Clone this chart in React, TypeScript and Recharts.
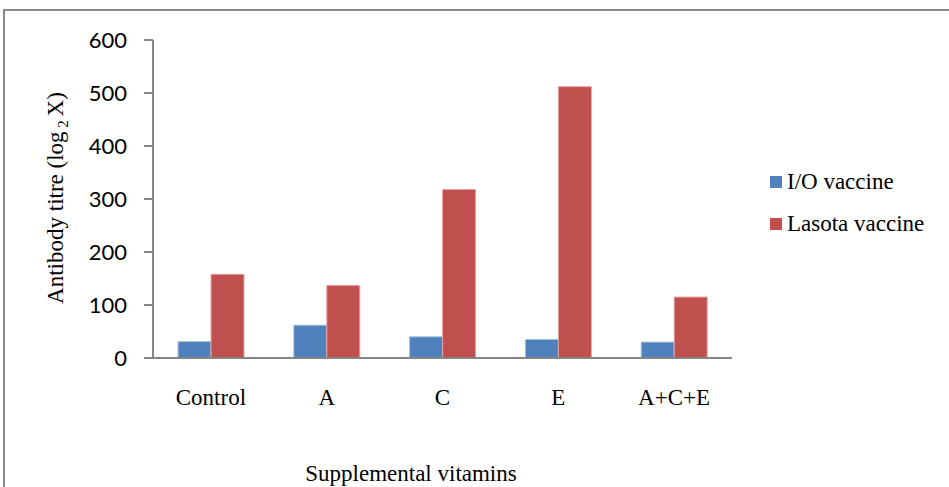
import { BarChart, Bar, XAxis, YAxis } from 'recharts'

const categories = ['Control', 'A', 'C', 'E', 'A+C+E']
const ioVaccine = [31, 62, 40, 35, 30]
const lasotaVaccine = [158, 137, 318, 512, 115]
const yTicks = [0, 100, 200, 300, 400, 500, 600]

const SERIES = [
  { key: 'io', name: 'I/O vaccine', color: '#4F81BD', stroke: '#A9C1DF' },
  { key: 'lasota', name: 'Lasota vaccine', color: '#C0504D', stroke: '#E3A6A4' },
]

const data = categories.map((name, i) => ({ name, io: ioVaccine[i], lasota: lasotaVaccine[i] }))

const serif = '"Liberation Serif", "Times New Roman", serif'

function YTitle() {
  return (
    <text
      x={63}
      y={198}
      transform="rotate(-90, 63, 198)"
      textAnchor="middle"
      fontFamily={serif}
      fontSize={23}
      fill="#000"
    >
      Antibody titre (log
      <tspan fontSize={15} dy={5}> 2 </tspan>
      <tspan dy={-5}>X)</tspan>
    </text>
  )
}

function XTitle() {
  return (
    <text x={411} y={481} textAnchor="middle" fontFamily={serif} fontSize={23} fill="#000">
      Supplemental vitamins
    </text>
  )
}

export default function App() {
  return (
    <div style={{ position: 'absolute', left: 0, top: 0, width: 949, height: 487, overflow: 'hidden', background: '#fff' }}>
      <div
        style={{
          position: 'absolute',
          left: 3,
          top: 9,
          width: 1000,
          height: 600,
          borderLeft: '2px solid #898989',
          borderTop: '2px solid #898989',
        }}
      />
      <BarChart
        width={949}
        height={487}
        data={data}
        margin={{ top: 40, right: 217, bottom: 0, left: 0 }}
        barGap={0}
        barSize={33}
        style={{ position: 'absolute', left: 0, top: 0 }}
      >
        <XAxis
          dataKey="name"
          height={129}
          axisLine={{ stroke: '#868686', strokeWidth: 2 }}
          tickLine={false}
          tickSize={0}
          tickMargin={31}
          tick={{ fill: '#000', fontFamily: serif, fontSize: 23 }}
          interval={0}
          label={{ content: () => <XTitle /> }}
        />
        <YAxis
          width={153}
          domain={[0, 600]}
          ticks={yTicks}
          interval={0}
          axisLine={{ stroke: '#868686', strokeWidth: 2 }}
          tickLine={{ stroke: '#868686', strokeWidth: 2 }}
          tickSize={9}
          tickMargin={17}
          tick={{ fill: '#000', fontFamily: 'Lato, "Open Sans", sans-serif', fontSize: 22 }}
          label={{ content: () => <YTitle /> }}
        />
        {SERIES.map((s) => (
          <Bar
            key={s.key}
            dataKey={s.key}
            name={s.name}
            fill={s.color}
            stroke={s.stroke}
            strokeWidth={1}
            isAnimationActive={false}
          />
        ))}
      </BarChart>
      <div style={{ position: 'absolute', left: 770, top: 168, fontFamily: serif, fontSize: 23, color: '#000' }}>
        {SERIES.map((s) => (
          <div key={s.key} style={{ display: 'flex', alignItems: 'center', height: 27, marginBottom: 15 }}>
            <span style={{ display: 'inline-block', width: 12, height: 12, background: s.color, marginRight: 5 }} />
            <span style={{ lineHeight: '27px' }}>{s.name}</span>
          </div>
        ))}
      </div>
    </div>
  )
}
